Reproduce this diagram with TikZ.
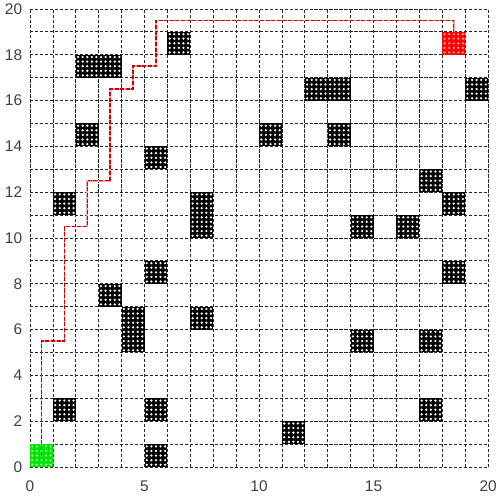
\documentclass[tikz,border=0pt]{standalone}
\usepackage{fontspec}
\setmainfont{Liberation Sans}
\usepackage{tikz}
\usetikzlibrary{positioning}

\begin{document}
\begin{tikzpicture}[
				x=0.5cm, y=0.5cm,
				gridline/.style={gray!30!black, dash pattern=on 2pt off 1.1pt, line width=0.5pt},
				wallcell/.style={fill=black},
				holedot/.style={fill=white},
				cellnode/.style={
					rectangle,
					minimum size=0.5cm,
					inner sep=0pt,
					outer sep=0pt
				},
				routebase/.style={red!35, line width=1pt},
				route/.style={red!80!black, dash pattern=on 2.5pt off 1pt, line width=0.9pt},
				ticklabel/.style={font=\fontsize{9.6}{11}\selectfont, text=black!75, inner sep=0pt}
				]
				\useasboundingbox (-1.31,-1.39) rectangle (20.52,20.39);
				
				% --- 1. Grid ---
				\foreach \k in {0,...,20} {
					\draw[gridline] (\k,0) -- (\k,20);
					\draw[gridline] (0,\k) -- (20,\k);
				}
				
				% --- 2. Obstacles ---
				\foreach \cx/\cy in {6/18, 2/17, 3/17, 2/14, 5/13, 1/11, 7/10, 7/11,
					12/16, 13/16, 19/16, 10/14, 13/14, 17/12, 18/11, 14/10, 16/10,
					5/8, 3/7, 4/5, 4/6, 7/6, 1/2, 5/2, 5/0,
					18/8, 14/5, 17/5, 17/2, 11/1} {
					\fill[wallcell] (\cx,\cy) rectangle ++(1,1);
					\foreach \dx in {0.1,0.3,0.5,0.7,0.9}
					\foreach \dy in {0.1,0.3,0.5,0.7,0.9}
					\fill[holedot] (\cx+\dx,\cy+\dy) circle (0.055);
				}
				
				% --- 3. Start and goal ---
				\node[cellnode, fill=green!90!black] (start) at (0.5,0.5) {};
				\node[cellnode, fill=red] (goal) at (18.5,18.5) {};
				\foreach \cx/\cy in {0/0, 18/18}
				\foreach \dx in {0.1,0.3,0.5,0.7,0.9}
				\foreach \dy in {0.1,0.3,0.5,0.7,0.9}
				\fill[holedot, opacity=0.6] (\cx+\dx,\cy+\dy) circle (0.055);
				
				% Path from start to goal
				\foreach \sty in {routebase, route}
				\draw[\sty] (start.center) -- (0.5,5.5) -- (1.5,5.5) -- (1.5,10.5)
					-- (2.5,10.5) -- (2.5,12.5) -- (3.5,12.5) -- (3.5,16.5)
					-- (4.5,16.5) -- (4.5,17.5) -- (5.5,17.5) -- (5.5,19.5)
					-- (18.5,19.5) -- (goal.north);
				
				% --- 4. Tick labels ---
				\foreach \t in {0,5,10,15,20}
				\node[ticklabel] (xt\t) at (\t,-0.83) {\t};
				\foreach \t in {0,2,...,20}
				\node[ticklabel, anchor=east] (yt\t) at (-0.33,\t) {\t};
				
			\end{tikzpicture}
\end{document}
